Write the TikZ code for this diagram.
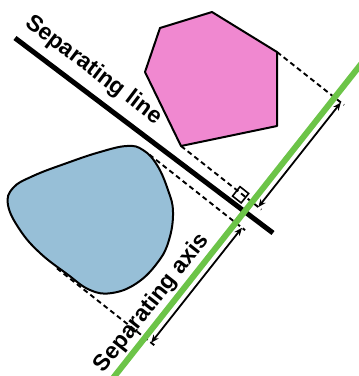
\documentclass[tikz,border=0pt]{standalone}
\usepackage{fontspec}
\setmainfont{Liberation Sans}
\usetikzlibrary{calc,arrows.meta}
\definecolor{pinkfill}{RGB}{240,136,208}
\definecolor{bluefill}{RGB}{151,191,215}
\definecolor{axisgreen}{RGB}{108,196,72}
\begin{document}
\begin{tikzpicture}[x=1pt,y=-1pt,
  shapeline/.style={draw=black, line width=2pt, line join=round},
  projline/.style={draw=black, line width=1.9pt, dash pattern=on 5pt off 3.5pt},
  dimarrow/.style={draw=black, line width=1.8pt, {Stealth[length=8pt,width=6.5pt]}-{Stealth[length=8pt,width=6.5pt]}},
  lbl/.style={font=\fontsize{23}{23}\selectfont\bfseries, inner sep=0pt, anchor=base}]
\useasboundingbox (0,0) rectangle (359,376);
\begin{scope}
\clip (0,0) rectangle (359,376);
% frame of the axis
\coordinate (O) at (245,211);
\begin{scope}[shift={(O)}, x={(0.620pt,0.785pt)}, y={(0.785pt,-0.620pt)}]
  \coordinate (Atop) at (250,0);
  \coordinate (Abot) at (-330,0);
  \coordinate (E1) at (-300,12);
  \coordinate (E2) at (300,12);
  \coordinate (D1) at (-300,8);
  \coordinate (D2) at (300,8);
  \coordinate (BmaxS) at (-15,-110);
  \coordinate (BmaxE) at (-15,12);
  \coordinate (BmaxD) at (-15,8);
  \coordinate (BminS) at (-161.5,-112);
  \coordinate (BminE) at (-161.5,12);
  \coordinate (BminD) at (-161.5,8);
  \coordinate (R1) at (4,-8);
  \coordinate (R2) at (4,-19);
  \coordinate (R3) at (16,-19);
  \coordinate (R4) at (16,-8);
  \coordinate (TA) at (-130,-10);
\end{scope}
% pink polygon
\coordinate (P1) at (212,12);
\coordinate (P2) at (277,52);
\coordinate (P3) at (277,126);
\coordinate (P4) at (181,146);
\coordinate (P5) at (145,72);
\coordinate (P6) at (160,28);
\filldraw[fill=pinkfill, shapeline] (P1) -- (P2) -- (P3) -- (P4) -- (P5) -- (P6) -- cycle;
% blue blob
\filldraw[fill=bluefill, shapeline] plot[smooth cycle, tension=0.7] coordinates {
  (8,205) (13,188) (33,176) (67,163) (100,152) (127,146) (143,150) (157,165)
  (168,190) (173,212) (169,240) (158,262) (137,283) (112,293) (90,290)
  (67,274) (40,253) (20,230)};
% projection lines
\draw[projline] (P4) -- ($(E1)!(P4)!(E2)$);
\draw[projline] (P2) -- ($(E1)!(P2)!(E2)$);
\draw[projline] (BmaxS) -- (BmaxE);
\draw[projline] (BminS) -- (BminE);
% right angle marker
\draw[line width=1.6pt] (R1) -- (R2) -- (R3) -- (R4) -- cycle;
% separating line
\coordinate (SL1) at (15,38);
\coordinate (SL2) at (273,233);
\draw[line width=5pt] (SL1) -- (SL2);
% separating axis
\draw[axisgreen, line width=6pt] (Abot) -- (Atop);
% dimension arrows
\draw[dimarrow] ($(D1)!(P4)!(D2)$) -- ($(D1)!(P2)!(D2)$);
\draw[dimarrow] (BminD) -- (BmaxD);
\end{scope}
% labels
\node[lbl, rotate=-37.2] (tl) at (90,75) {Separating line};
\node[lbl, rotate=51.7] (ta) at (TA) {Separating axis};
\end{tikzpicture}
\end{document}
